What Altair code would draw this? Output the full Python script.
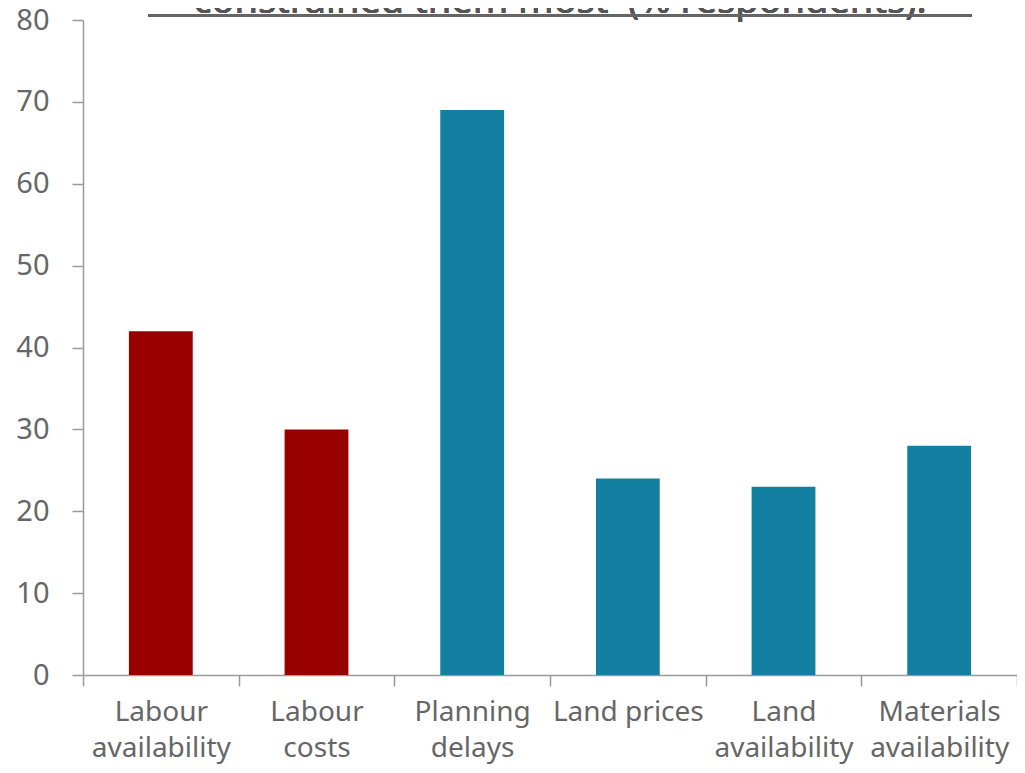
import altair as alt
import pandas as pd

categories = ["Labour availability", "Labour costs", "Planning delays",
              "Land prices", "Land availability", "Materials availability"]
values = [42, 30, 69, 24, 23, 28]
groups = ["Labour", "Labour", "Other", "Other", "Other", "Other"]
y_ticks = [0, 10, 20, 30, 40, 50, 60, 70, 80]
title_text = "constrained them most' (% respondents):"

df = pd.DataFrame({"cat": categories, "val": values, "grp": groups})

FONT = "Noto Sans"
W, H = 934, 655

bars = alt.Chart(df).mark_bar(width=alt.RelativeBandSize(0.41)).encode(
    x=alt.X("cat:N", sort=categories, title=None,
            scale=alt.Scale(paddingInner=0, paddingOuter=0),
            axis=alt.Axis(labelAngle=0, tickBand="extent", tickSize=11,
                          labelPadding=12, labelFontSize=28, labelFont=FONT,
                          labelColor="#666666", labelLineHeight=36,
                          labelBaseline="top",
                          domainColor="#9a9a9a", tickColor="#9a9a9a",
                          domainWidth=1.5, tickWidth=1.5,
                          labelExpr="datum.label == 'Land prices' ? datum.label : split(datum.label, ' ')")),
    y=alt.Y("val:Q", title=None,
            scale=alt.Scale(domain=[0, 80], nice=False),
            axis=alt.Axis(values=y_ticks, tickSize=11, labelPadding=23,
                          labelFontSize=29, labelFont=FONT, labelColor="#666666",
                          domainColor="#9a9a9a", tickColor="#9a9a9a",
                          domainWidth=1.5, tickWidth=1.5, grid=False)),
    color=alt.Color("grp:N", legend=None,
                    scale=alt.Scale(domain=["Labour", "Other"],
                                    range=["#990000", "#1380A1"])),
)

title = alt.Chart(df).mark_text(
    text=title_text, font=FONT, fontSize=38, color="#555555",
    align="center", baseline="alphabetic"
).encode(x=alt.value(477), y=alt.value(-7))

underline = alt.Chart(df).mark_rule(color="#666666", strokeWidth=2.5).encode(
    x=alt.value(65), x2=alt.value(889), y=alt.value(-4.5))

chart = alt.layer(bars, title, underline).properties(
    width=W, height=H,
    autosize=alt.AutoSizeParams(type="none"),
    padding={"left": 75, "top": 12, "right": 0, "bottom": 90},
).configure_view(stroke=None)

chart.save("out.html", embed_options={"renderer": "svg", "actions": False})
